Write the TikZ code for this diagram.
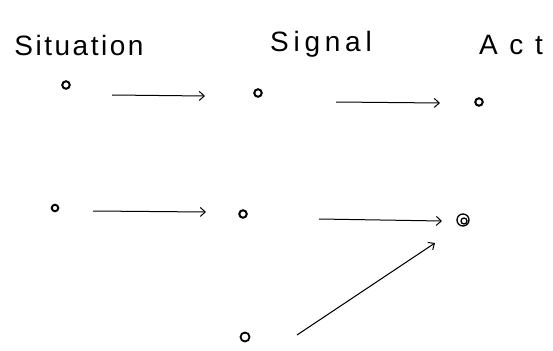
\documentclass[tikz,border=0pt]{standalone}
\usepackage{fontspec}
\setmainfont{Liberation Sans}
\usetikzlibrary{arrows.meta}
\begin{document}
\begin{tikzpicture}[x=1pt,y=-1pt,
  dot/.style={circle,draw,line width=2pt,minimum size=7.5pt,inner sep=0pt},
  conn/.style={line width=1pt,-{Straight Barb[length=5pt,width=9pt,line width=1pt]}},
  lab/.style={anchor=base,inner sep=0pt,font=\fontsize{28}{32}\selectfont}]
\useasboundingbox (0,0) rectangle (553,350);
\fill[white] (0,0) rectangle (553,350);
% labels
\node[lab] (lsit) at (79,56) {\addfontfeature{LetterSpace=9}Situation};
\node[lab] (lsig) at (321,52) {\addfontfeature{LetterSpace=17}Signal};
\node[lab] (lact) at (511,55) {\addfontfeature{LetterSpace=42}Act};
% dots
\node[dot] (s1) at (66,85) {};
\node[dot] (g1) at (258,93) {};
\node[dot] (a1) at (479,102) {};
\node[dot,minimum size=6.5pt] (s2) at (55,208) {};
\node[dot] (g2) at (243,214) {};
\node[dot,minimum size=12pt,line width=1.3pt] (a2) at (463,220) {};
\draw[line width=1.3pt] ([xshift=1pt,yshift=-1pt]a2.center) circle (3pt);
\node[dot,minimum size=9pt,line width=1.8pt] (x) at (245,337) {};
% connectors
\draw[conn] ([xshift=46pt,yshift=-10pt]s1.center) -- ([xshift=-53pt,yshift=-3pt]g1.center);
\draw[conn] ([xshift=78pt,yshift=-9pt]g1.center) -- ([xshift=-39pt,yshift=-1pt]a1.center);
\draw[conn] ([xshift=38pt,yshift=-3pt]s2.center) -- ([xshift=-37pt,yshift=2pt]g2.center);
\draw[conn] ([xshift=76pt,yshift=-5pt]g2.center) -- ([xshift=-21pt,yshift=-1pt]a2.center);
\draw[conn] ([xshift=52pt,yshift=2pt]x.center) -- ([xshift=-28pt,yshift=-23pt]a2.center);
\end{tikzpicture}
\end{document}
